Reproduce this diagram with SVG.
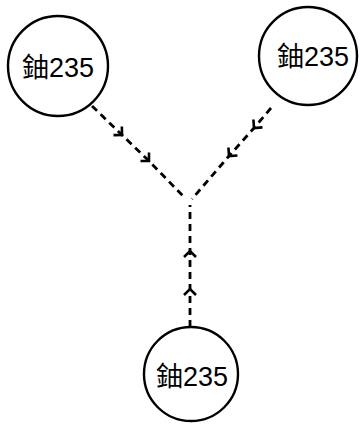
<svg xmlns="http://www.w3.org/2000/svg" width="360" height="431" viewBox="0 0 360 431">
<style>
.node circle{fill:#fff;stroke:#000;stroke-width:2.4}
.node text{font-family:"Liberation Sans","Noto Sans CJK TC",sans-serif;font-size:27px;fill:#000;text-anchor:middle}
.edge{fill:none;stroke:#000;stroke-width:2.8;stroke-dasharray:7 5;marker-mid:url(#chev)}
</style>
<defs>
<marker id="chev" markerUnits="userSpaceOnUse" markerWidth="16" markerHeight="16" refX="8" refY="8" orient="auto" overflow="visible">
<path d="M2,2 L8,8 L2,14" fill="none" stroke="#000" stroke-width="2.6"/>
</marker>
</defs>
<rect width="360" height="431" fill="#fff"/>
<g id="connectors">
<polyline class="edge" points="92,106 122,135 149,161 184,197"/>
<polyline class="edge" points="271,108 254,128 229,156 192,199"/>
<polyline class="edge" points="190,327 190,289 190,251 190,205"/>
</g>
<g id="node-top-left" class="node">
<circle cx="58" cy="66" r="50"/>
<text x="58" y="77">鈾235</text>
</g>
<g id="node-top-right" class="node">
<circle cx="308" cy="56" r="49"/>
<text x="313" y="66">鈾235</text>
</g>
<g id="node-bottom" class="node">
<circle cx="191" cy="374" r="47"/>
<text x="192" y="386">鈾235</text>
</g>
</svg>
